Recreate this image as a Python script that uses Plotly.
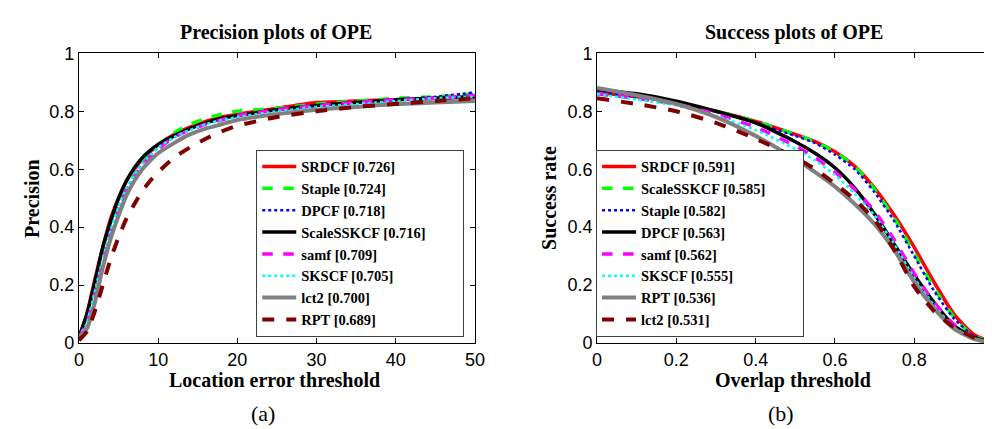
import plotly.graph_objects as go

# ---------------- data ----------------
prec_x = [0, 1, 2, 3, 4, 5, 6, 7, 8, 9, 10, 12, 14, 16, 18, 20, 25, 30, 35, 40, 45, 50]
prec_names = ["SRDCF [0.726]", "Staple [0.724]", "DPCF [0.718]", "ScaleSSKCF [0.716]",
              "samf [0.709]", "SKSCF [0.705]", "lct2 [0.700]", "RPT [0.689]"]
prec_srdcf = [0.02, 0.10, 0.22, 0.33, 0.43, 0.50, 0.56, 0.60, 0.635, 0.66, 0.685, 0.72, 0.745, 0.765, 0.78, 0.79, 0.81, 0.83, 0.835, 0.84, 0.845, 0.85]
prec_staple = [0.02, 0.09, 0.21, 0.32, 0.42, 0.49, 0.555, 0.60, 0.635, 0.66, 0.685, 0.725, 0.755, 0.775, 0.79, 0.80, 0.81, 0.825, 0.835, 0.845, 0.85, 0.86]
prec_dpcf = [0.02, 0.08, 0.19, 0.30, 0.40, 0.47, 0.53, 0.58, 0.62, 0.65, 0.675, 0.71, 0.74, 0.76, 0.775, 0.785, 0.805, 0.82, 0.83, 0.84, 0.85, 0.865]
prec_scalesskcf = [0.02, 0.10, 0.21, 0.33, 0.42, 0.50, 0.56, 0.605, 0.64, 0.665, 0.685, 0.715, 0.74, 0.76, 0.775, 0.785, 0.805, 0.82, 0.83, 0.84, 0.845, 0.85]
prec_samf = [0.02, 0.07, 0.17, 0.28, 0.38, 0.46, 0.53, 0.575, 0.615, 0.645, 0.67, 0.71, 0.735, 0.755, 0.77, 0.785, 0.805, 0.82, 0.83, 0.84, 0.845, 0.855]
prec_skscf = [0.02, 0.07, 0.18, 0.29, 0.39, 0.47, 0.535, 0.58, 0.62, 0.65, 0.675, 0.71, 0.735, 0.755, 0.77, 0.78, 0.80, 0.815, 0.825, 0.835, 0.845, 0.85]
prec_lct2 = [0.02, 0.05, 0.14, 0.26, 0.36, 0.44, 0.51, 0.56, 0.60, 0.63, 0.655, 0.69, 0.72, 0.74, 0.755, 0.77, 0.79, 0.805, 0.815, 0.825, 0.83, 0.835]
prec_rpt = [0.01, 0.04, 0.11, 0.20, 0.29, 0.365, 0.43, 0.48, 0.525, 0.56, 0.59, 0.64, 0.675, 0.705, 0.73, 0.75, 0.78, 0.80, 0.815, 0.825, 0.835, 0.845]

succ_x = [0, 0.1, 0.2, 0.3, 0.4, 0.5, 0.55, 0.6, 0.65, 0.7, 0.75, 0.8, 0.85, 0.9, 0.95, 1.0]
succ_names = ["SRDCF [0.591]", "ScaleSSKCF [0.585]", "Staple [0.582]", "DPCF [0.563]",
              "samf [0.562]", "SKSCF [0.555]", "RPT [0.536]", "lct2 [0.531]"]
succ_srdcf = [0.865, 0.85, 0.83, 0.80, 0.765, 0.72, 0.695, 0.66, 0.61, 0.535, 0.44, 0.33, 0.21, 0.10, 0.03, 0.0]
succ_scalesskcf = [0.86, 0.845, 0.825, 0.80, 0.765, 0.72, 0.695, 0.66, 0.61, 0.53, 0.43, 0.31, 0.19, 0.09, 0.025, 0.0]
succ_staple = [0.865, 0.85, 0.83, 0.80, 0.76, 0.715, 0.69, 0.65, 0.60, 0.52, 0.42, 0.30, 0.18, 0.085, 0.025, 0.0]
succ_dpcf = [0.875, 0.86, 0.835, 0.80, 0.76, 0.695, 0.655, 0.605, 0.535, 0.445, 0.34, 0.235, 0.14, 0.06, 0.02, 0.0]
succ_samf = [0.86, 0.845, 0.825, 0.79, 0.745, 0.68, 0.64, 0.59, 0.53, 0.455, 0.355, 0.24, 0.14, 0.065, 0.02, 0.0]
succ_skscf = [0.86, 0.84, 0.82, 0.785, 0.735, 0.67, 0.63, 0.58, 0.515, 0.44, 0.34, 0.225, 0.13, 0.055, 0.015, 0.0]
succ_rpt = [0.88, 0.855, 0.825, 0.78, 0.715, 0.635, 0.59, 0.54, 0.48, 0.41, 0.32, 0.21, 0.12, 0.05, 0.015, 0.0]
succ_lct2 = [0.845, 0.825, 0.80, 0.76, 0.705, 0.64, 0.60, 0.55, 0.495, 0.425, 0.32, 0.195, 0.11, 0.055, 0.02, 0.0]

y_ticks = [0, 0.2, 0.4, 0.6, 0.8, 1]
prec_x_ticks = [0, 10, 20, 30, 40, 50]
succ_x_ticks = [0, 0.2, 0.4, 0.6, 0.8, 1]

# ---------------- styles ----------------
styles = [
    dict(color="#ff0000", dash="solid", width=3.5),
    dict(color="#00ff00", dash="dash", width=3.5),
    dict(color="#0000ff", dash="dot", width=2.5),
    dict(color="#000000", dash="solid", width=3.5),
    dict(color="#ff00ff", dash="dash", width=3.5),
    dict(color="#00ffff", dash="dot", width=2.5),
    dict(color="#808080", dash="solid", width=4),
    dict(color="#800000", dash="dash", width=4),
]

fig = go.Figure()
prec_series = [prec_srdcf, prec_staple, prec_dpcf, prec_scalesskcf, prec_samf, prec_skscf, prec_lct2, prec_rpt]
succ_series = [succ_srdcf, succ_scalesskcf, succ_staple, succ_dpcf, succ_samf, succ_skscf, succ_rpt, succ_lct2]

PAD = "\u00a0" * 9  # widen the legend box (reference legend text is wider)


def label(names, i):
    longest = max(range(len(names)), key=lambda k: len(names[k]))
    return "<b>%s</b>%s" % (names[i], PAD if i == longest else "")


for i, ys in enumerate(prec_series):
    fig.add_trace(go.Scatter(x=prec_x, y=ys, mode="lines", name=label(prec_names, i),
                             line=dict(shape="spline", smoothing=0.6, **styles[i]),
                             xaxis="x", yaxis="y", legend="legend",
                             legendgroup="p%d" % i, legendrank=i + 1))
for i, ys in enumerate(succ_series):
    fig.add_trace(go.Scatter(x=succ_x, y=ys, mode="lines", name=label(succ_names, i),
                             line=dict(shape="spline", smoothing=0.6, **styles[i]),
                             xaxis="x2", yaxis="y2", legend="legend2",
                             legendgroup="s%d" % i, legendrank=i + 1))

tickfont = dict(family="Liberation Sans, Arial, sans-serif", size=18, color="black")
axis_common = dict(showline=True, linecolor="black", linewidth=1, mirror="ticks",
                   ticks="inside", ticklen=5, tickcolor="black", tickwidth=1,
                   showgrid=False, zeroline=False, tickfont=tickfont)

Y0, Y1 = 1 - 341 / 429, 1 - 37 / 429
legend_font = dict(family="Liberation Serif, Times New Roman, serif", size=14.5, color="black")
legend_common = dict(font=legend_font, bordercolor="#404040", borderwidth=1, bgcolor="white",
                     tracegroupgap=0, xanchor="left", yanchor="top", itemwidth=34)

fig.update_layout(
    width=992, height=429,
    margin=dict(l=0, r=0, t=0, b=0),
    paper_bgcolor="white", plot_bgcolor="white",
    xaxis=dict(domain=[67 / 992, 469 / 992], range=[0, 50], tickvals=prec_x_ticks, anchor="y", **axis_common),
    yaxis=dict(domain=[Y0, Y1], range=[0, 1], tickvals=y_ticks, anchor="x", **axis_common),
    xaxis2=dict(domain=[593 / 992, 1.0], range=[0, 0.991], tickvals=succ_x_ticks, anchor="y2", **axis_common),
    yaxis2=dict(domain=[Y0, Y1], range=[0, 1], tickvals=y_ticks, anchor="x2", **axis_common),
    legend=dict(x=247 / 992, y=1 - 138 / 429, **legend_common),
    legend2=dict(x=592 / 992, y=1 - 138 / 429, **legend_common),
    showlegend=True,
)

title_font = dict(family="Liberation Serif, Times New Roman, serif", size=20, color="black")
label_font = dict(family="Liberation Serif, Times New Roman, serif", size=22, color="black")


def ann(text, x, y, font, angle=0):
    fig.add_annotation(text=text, x=x / 992, y=1 - y / 429, xref="paper", yref="paper",
                       showarrow=False, font=font, textangle=angle,
                       xanchor="center", yanchor="middle")


ann("<b>Precision plots of OPE</b>", 267, 15, title_font)
ann("<b>Success plots of OPE</b>", 793, 15, title_font)
ann("<b>Location error threshold</b>", 266, 380, title_font)
ann("<b>Overlap threshold</b>", 792, 380, title_font)
ann("<b>Precision</b>", 19, 189, title_font, angle=-90)
ann("<b>Success rate</b>", 544, 189, title_font, angle=-90)
ann("(a)", 254, 415, label_font)
ann("(b)", 780, 415, label_font)

fig.write_html("out.html")
